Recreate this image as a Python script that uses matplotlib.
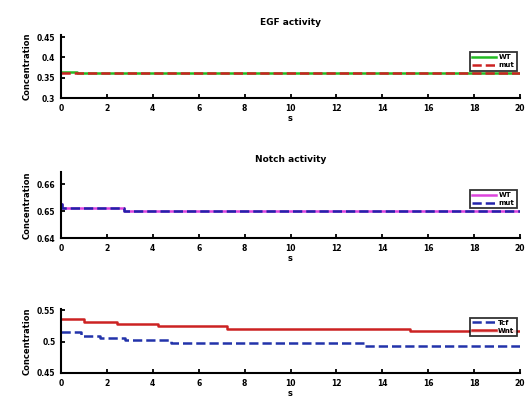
"""Three stacked concentration traces (EGF, Notch, Wnt) in MATLAB style."""

import matplotlib
matplotlib.use("Agg")
import matplotlib.pyplot as plt

W, H = 529, 403

# panel 1: EGF activity
egf_t = [0, 0.7, 20]
egf_a = [0.365, 0.3625, 0.3625]
egf_b = [0.3625, 0.3625, 0.3625]

# panel 2: Notch activity
notch_t = [0, 0.05, 2.75, 20]
notch_a = [0.6525, 0.6512, 0.6500, 0.6500]
notch_b = [0.6525, 0.6512, 0.6500, 0.6500]

# panel 3
p3_blue_t = [0, 0.86, 1.72, 2.8, 4.8, 13.26, 20]
p3_blue = [0.515, 0.5095, 0.5055, 0.502, 0.498, 0.4925, 0.4925]
p3_red_t = [0, 1.0, 2.44, 4.23, 7.24, 15.2, 20]
p3_red = [0.536, 0.532, 0.528, 0.5245, 0.5205, 0.5165, 0.5165]

xticks = list(range(0, 21, 2))

fig = plt.figure(figsize=(W / 100, H / 100), dpi=100, facecolor="white")


def make_ax(top, bottom):
    left, right = 61, 520
    return fig.add_axes([left / W, 1 - bottom / H, (right - left) / W, (bottom - top) / H])


def style(ax, ylim, yticks, title=None, leg_y=0.78):
    ax.set_xlim(0, 20)
    ax.set_ylim(*ylim)
    ax.set_xticks(xticks)
    ax.set_yticks(yticks)
    ax.set_yticklabels([f"{v:g}" for v in yticks])
    ax.tick_params(direction="in", length=3, width=1.3, labelsize=5.5, pad=4)
    for lbl in ax.get_xticklabels() + ax.get_yticklabels():
        lbl.set_fontweight("bold")
    ax.spines[["top", "right"]].set_visible(False)
    for s in ("left", "bottom"):
        ax.spines[s].set_linewidth(1.5)
    ax.set_xlabel("s", fontsize=6, fontweight="bold", labelpad=1)
    ax.set_ylabel("Concentration", fontsize=6, fontweight="bold", labelpad=4)
    if title:
        ax.set_title(title, fontsize=6.5, fontweight="bold", pad=7)
    leg = ax.legend(loc="upper right", bbox_to_anchor=(1.0, leg_y),
                    prop={"size": 5, "weight": "bold"},
                    frameon=True, fancybox=False, handlelength=3.5,
                    borderpad=0.3, labelspacing=0.3, handletextpad=0.3)
    leg.get_frame().set_edgecolor("black")
    leg.get_frame().set_linewidth(1.3)


ax1 = make_ax(35, 98)
ax1.plot(egf_t, egf_a, drawstyle="steps-post", color="#22bb22", lw=1.8, label="WT")
ax1.plot(egf_t, egf_b, drawstyle="steps-post", color="#cc2222", lw=1.8, ls="--", label="mut")
style(ax1, (0.3, 0.455), [0.3, 0.35, 0.4, 0.45], "EGF activity")

ax2 = make_ax(172, 238)
ax2.plot(notch_t, notch_a, drawstyle="steps-post", color="#dd44dd", lw=1.8, label="WT")
ax2.plot(notch_t, notch_b, drawstyle="steps-post", color="#2222aa", lw=1.8, ls="--", label="mut")
style(ax2, (0.64, 0.6645), [0.64, 0.65, 0.66], "Notch activity")

ax3 = make_ax(309, 373)
ax3.plot(p3_blue_t, p3_blue, drawstyle="steps-post", color="#2233aa", lw=1.8, ls="--", label="Tcf")
ax3.plot(p3_red_t, p3_red, drawstyle="steps-post", color="#cc2222", lw=1.8, label="Wnt")
style(ax3, (0.45, 0.552), [0.45, 0.5, 0.55], leg_y=0.92)

fig.savefig("out.png", dpi=100, facecolor="white")
